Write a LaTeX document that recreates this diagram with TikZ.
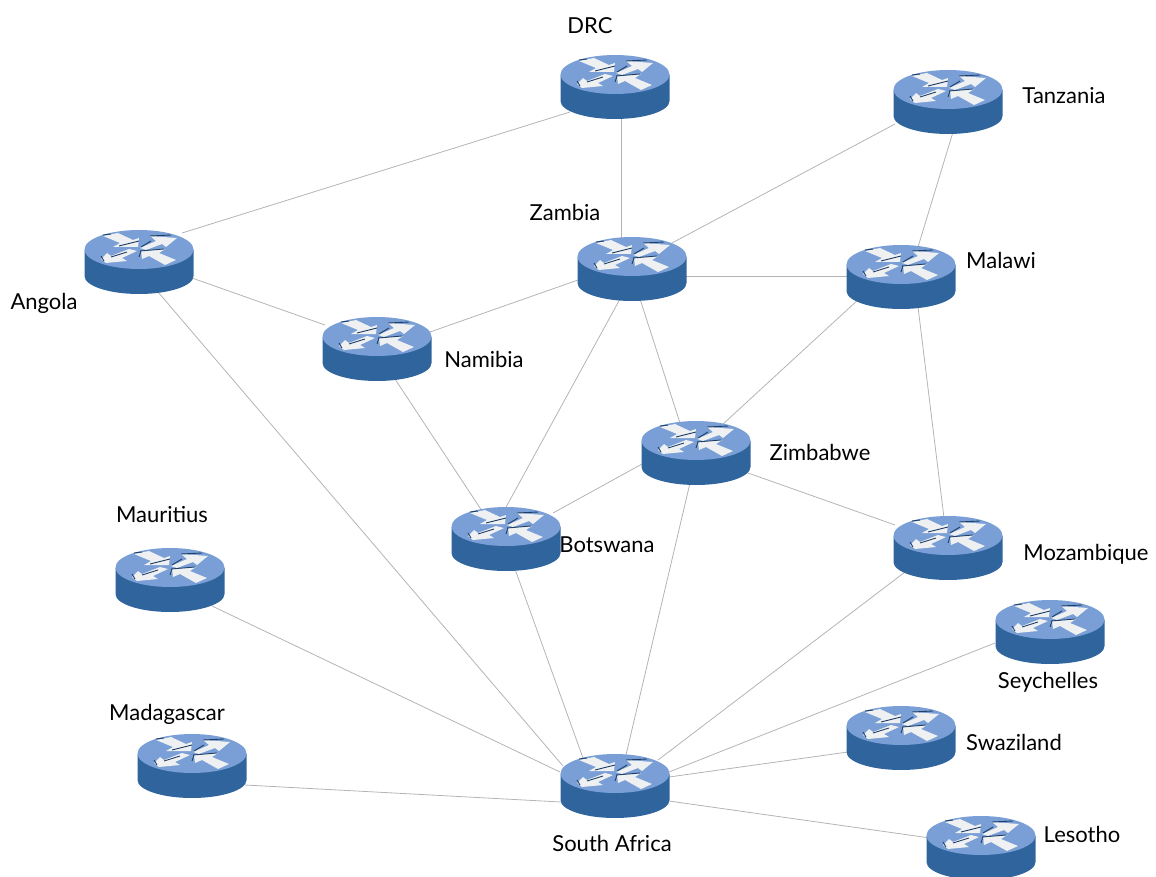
\documentclass[tikz,border=0pt]{standalone}
\usepackage{fontspec}
\setmainfont{Lato}
\usetikzlibrary{backgrounds}
\definecolor{rtop}{HTML}{7A9FD6}
\definecolor{rside}{HTML}{2F659C}
\definecolor{rdark}{HTML}{1F3F66}
\definecolor{rwhite}{HTML}{EEF0F2}
\definecolor{wire}{HTML}{B4B4B8}
\tikzset{
  x=1pt,y=-1pt,
  hub/.style={inner sep=0pt,minimum width=110pt,minimum height=66pt,
    path picture={
      \begin{scope}[shift={(path picture bounding box.center)},x=1pt,y=-1pt]
        \fill[rside] (-54.5,-12) -- (-54.5,14) arc[start angle=180,end angle=360,x radius=54.5,y radius=-18] -- (54.5,-12) -- cycle;
        \fill[rtop] (0,-12.5) ellipse[x radius=54.5,y radius=19.5];
        \fill[rwhite] (-36,-26) -- (-21,-29) -- (-6,-22) -- (0,-24) -- (-1,-15) -- (-26,-15) -- (-19,-19) -- cycle;
        \fill[rwhite] (1,-14) -- (17,-21) -- (11,-26) -- (38,-24) -- (27,-15) -- (23,-18) -- (7,-12) -- cycle;
        \fill[rwhite] (-38,-3) -- (-32,-9) -- (-28,-6) -- (-10,-13) -- (-2,-11) -- (-17,-4) -- (-12,-1) -- (-33,1) -- cycle;
        \fill[rwhite] (2,-11) -- (26,-13) -- (20,-9) -- (37,-2) -- (26,3) -- (10,-6) -- (3,-3) -- cycle;
        \draw[rdark,line width=0.9pt] (-36,-27) -- (-28,-28);
        \draw[rdark,line width=0.9pt] (-20,-16) -- (0,-21);
        \draw[rdark,line width=0.9pt] (11,-26) -- (32,-27);
        \draw[rdark,line width=0.9pt] (2,-15) -- (12,-21);
        \draw[rdark,line width=0.9pt] (-38,-6) -- (-35,-1);
        \draw[rdark,line width=0.9pt] (-28,-5) -- (-12,-10);
        \draw[rdark,line width=0.9pt] (1,-11) -- (25,-13);
        \draw[rdark,line width=0.9pt] (0,-5) -- (2,-11);
      \end{scope}
    }},
  link/.style={wire,line width=0.8pt},
  tag/.style={inner sep=0pt,text=black,font=\fontsize{22pt}{24pt}\selectfont,anchor=center}
}
\begin{document}
\begin{tikzpicture}
\useasboundingbox (0,0) rectangle (1156,877);
\clip (0,0) rectangle (1156,877);
\node[hub] (drc) at (615,87) {};
\node[hub] (tan) at (948,102) {};
\node[hub] (ang) at (139,262) {};
\node[hub] (zam) at (632,269) {};
\node[hub] (mal) at (901,277) {};
\node[hub] (nam) at (377,349) {};
\node[hub] (zim) at (696,453) {};
\node[hub] (bot) at (506,539) {};
\node[hub] (mau) at (170,580) {};
\node[hub] (moz) at (948,548) {};
\node[hub] (sey) at (1050,632) {};
\node[hub] (swa) at (901,738) {};
\node[hub] (mad) at (192,766) {};
\node[hub] (saf) at (615,786) {};
\node[hub] (les) at (981,848) {};
\begin{scope}[on background layer]
\foreach \a/\ax/\ay/\b/\bx/\by in {
  drc/-45/25/ang/43/-29,
  drc/6/30/zam/-11/-30,
  tan/-53/22/zam/40/-26,
  tan/5/30/mal/17/-30,
  ang/53/16/nam/-52/-24,
  ang/19/30/saf/-52/-20,
  zam/-54/11/nam/53/-17,
  zam/54/7/mal/-54/-1,
  zam/-12/30/bot/-1/-30,
  zam/8/30/zim/-16/-30,
  mal/-41/21/zim/26/-28,
  mal/17/30/moz/-4/-30,
  nam/18/30/bot/-24/-28,
  zim/-54/11/bot/47/-26,
  zim/52/20/moz/-53/-23,
  zim/-6/30/saf/11/-31,
  bot/9/30/saf/-32/-28,
  mau/42/26/saf/-55/-14,
  moz/-43/24/saf/43/-26,
  sey/-55/11/saf/54/-14,
  swa/-53/14/saf/54/-9,
  mad/53/19/saf/-54/16,
  les/-51/-10/saf/54/15}
  \draw[link] ([shift={(\ax pt,-\ay pt)}]\a.center) -- ([shift={(\bx pt,-\by pt)}]\b.center);
\end{scope}
\node[tag] (t1) at (590,26) {DRC};
\node[tag] (t2) at (1064,96) {Tanzania};
\node[tag] (t3) at (565,212) {Zambia};
\node[tag] (t4) at (1001,260) {Malawi};
\node[tag] (t5) at (44,303) {Angola};
\node[tag] (t6) at (484,359) {Namibia};
\node[tag] (t7) at (820,452) {Zimbabwe};
\node[tag] (t8) at (607,545) {Botswana};
\node[tag] (t9) at (162,515) {Mauritius};
\node[tag] (t10) at (1086,554) {Mozambique};
\node[tag] (t11) at (1048,682) {Seychelles};
\node[tag] (t12) at (1014,742) {Swaziland};
\node[tag] (t13) at (167,714) {Madagascar};
\node[tag] (t14) at (612,843) {South Africa};
\node[tag] (t15) at (1082,834) {Lesotho};
\end{tikzpicture}
\end{document}
